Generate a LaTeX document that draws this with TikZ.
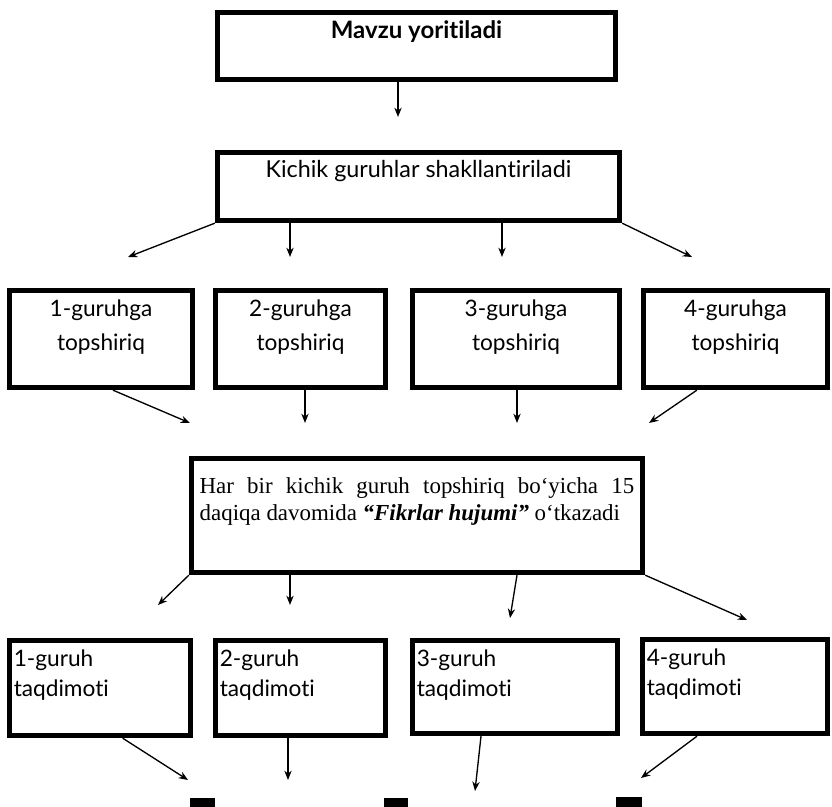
\documentclass[tikz,border=0pt]{standalone}
\usepackage{fontspec}
\setmainfont{Liberation Serif}
\newfontfamily\lato{Lato}[Ligatures={NoCommon,NoRare,NoDiscretionary}]
\usetikzlibrary{arrows.meta}

\tikzset{
  box/.style={draw, line width=4pt, inner sep=0pt},
  arr/.style={->, line width=1pt},
  toplabel/.style={anchor=north, align=center},
  leftlabel/.style={anchor=north west, align=left, xshift=5pt, yshift=-9pt,
    font=\lato\fontsize{17}{22.5}\selectfont}
}

\begin{document}
\begin{tikzpicture}[x=0.75pt,y=-0.75pt,>={Stealth[length=7pt,width=5.5pt]},
  every label/.style={inner sep=0pt, font=\lato\fontsize{17}{26}\selectfont}]
  \useasboundingbox (0,0) rectangle (832,807);

  % upper part
  \node[box, minimum width=298.5pt, minimum height=50.25pt,
    label={[toplabel, yshift=-8pt, font=\lato\bfseries\fontsize{18}{20}\selectfont]north:Mavzu yoritiladi}]
    (mavzu) at (416.5,46) {};
  \node[box, minimum width=301.5pt, minimum height=51pt,
    label={[toplabel, yshift=-8pt, font=\lato\fontsize{17.5}{20}\selectfont]north:Kichik guruhlar shakllantiriladi}]
    (kichik) at (418.5,186.5) {};

  \node[box, minimum width=137.25pt, minimum height=72.75pt,
    label={[toplabel, yshift=-8.5pt]north:1-guruhga\\topshiriq}] (g1) at (101,339) {};
  \node[box, minimum width=127.5pt, minimum height=72.75pt,
    label={[toplabel, yshift=-8.5pt]north:2-guruhga\\topshiriq}] (g2) at (300.5,339) {};
  \node[box, minimum width=155.25pt, minimum height=72.75pt,
    label={[toplabel, yshift=-8.5pt]north:3-guruhga\\topshiriq}] (g3) at (516,339) {};
  \node[box, minimum width=138pt, minimum height=72.75pt,
    label={[toplabel, yshift=-8.5pt]north:4-guruhga\\topshiriq}] (g4) at (735.5,339) {};

  % middle box
  \node[box, minimum width=338.25pt, minimum height=85.5pt,
    label={[anchor=north west, xshift=7.9pt, yshift=-16pt, text width=326pt, align=justify,
      font=\fontsize{17.2}{20.5}\selectfont]north west:Har bir kichik guruh topshiriq bo‘yicha 15\linebreak
      daqiqa davomida \textit{\textbf{“Fikrlar hujumi”}} o‘tkazadi}]
    (har) at (417,515.5) {};

  % lower part
  \node[box, minimum width=135.75pt, minimum height=71.25pt,
    label={[leftlabel]north west:1-guruh\\taqdimoti}] (t1) at (100,688) {};
  \node[box, minimum width=127.5pt, minimum height=71.25pt,
    label={[leftlabel]north west:2-guruh\\taqdimoti}] (t2) at (300.5,688) {};
  \node[box, minimum width=153.75pt, minimum height=69.75pt,
    label={[leftlabel]north west:3-guruh\\taqdimoti}] (t3) at (515,687) {};
  \node[box, minimum width=138.75pt, minimum height=70.5pt,
    label={[leftlabel]north west:4-guruh\\taqdimoti}] (t4) at (735,686.5) {};

  % arrow tips
  \coordinate (a0) at (398,117);
  \coordinate (k1) at (128,257);
  \coordinate (k2) at (290,257);
  \coordinate (k3) at (502,257);
  \coordinate (k4) at (692,257);
  \coordinate (h1) at (190,423);
  \coordinate (h2) at (305,423);
  \coordinate (h3) at (517,423);
  \coordinate (h4) at (649,423);
  \coordinate (p1) at (158,605);
  \coordinate (p2) at (290,605);
  \coordinate (p3) at (510,618);
  \coordinate (p4) at (747,620);
  \coordinate (q1) at (188,780);
  \coordinate (q2) at (288,780);
  \coordinate (q3) at (475,791);
  \coordinate (q4) at (641,778);

  \draw[arr] (a0 |- mavzu.south) -- (a0);
  \draw[arr] (kichik.south west) -- (k1);
  \draw[arr] (k2 |- kichik.south) -- (k2);
  \draw[arr] (k3 |- kichik.south) -- (k3);
  \draw[arr] (kichik.south east) -- (k4);
  \draw[arr] ([xshift=9pt]g1.south) -- (h1);
  \draw[arr] (h2 |- g2.south) -- (h2);
  \draw[arr] (h3 |- g3.south) -- (h3);
  \draw[arr] ([xshift=-29pt]g4.south) -- (h4);
  \draw[arr] (har.south west) -- (p1);
  \draw[arr] (p2 |- har.south) -- (p2);
  \draw[arr] ([xshift=75pt]har.south) -- (p3);
  \draw[arr] (har.south east) -- (p4);
  \draw[arr] ([xshift=17pt]t1.south) -- (q1);
  \draw[arr] (q2 |- t2.south) -- (q2);
  \draw[arr] ([xshift=-25.5pt]t3.south) -- (q3);
  \draw[arr] ([xshift=-28.5pt]t4.south) -- (q4);

  % cut-off marks at the bottom edge
  \fill (190,798) rectangle (215,807);
  \fill (384,798) rectangle (408,807);
  \fill (616,797) rectangle (642,807);
\end{tikzpicture}
\end{document}
